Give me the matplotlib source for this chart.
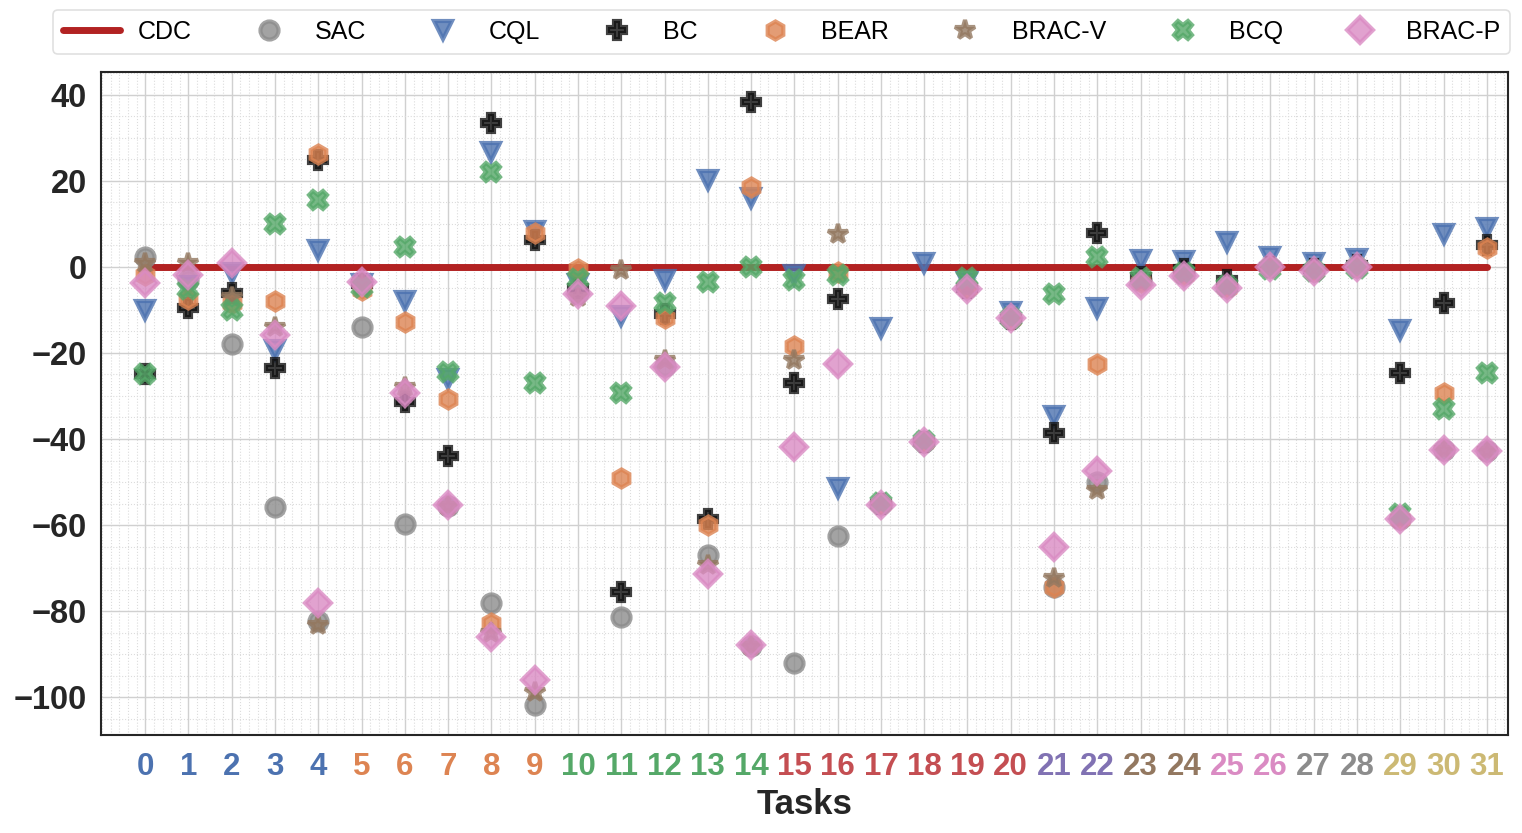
import numpy as np
import matplotlib
matplotlib.use('Agg')
import matplotlib.pyplot as plt
from matplotlib.ticker import AutoMinorLocator

plt.rcParams['font.family'] = ['Liberation Sans', 'DejaVu Sans']

# tasks and per-method scores
tasks = np.arange(32)
cdc = [0.0] * 32
sac = [2.3, -3.0, -18.0, -55.7, -82.4, -14.0, -59.7, -55.5, -78.0, -101.9,
       -6.0, -81.3, -23.0, -66.9, -88.0, -92.0, -62.5, -55.0, -40.6, -5.0,
       -12.0, -74.3, -49.9, -3.0, -1.5, -4.5, 0.0, -1.0, 0.0, -58.5,
       -42.5, -42.7]
cql = [-10.0, -4.5, -1.5, -19.3, 3.9, -4.0, -8.0, -26.0, 26.7, 8.3,
       -4.0, -11.5, -3.0, 20.2, 16.0, -2.0, -51.3, -14.2, 0.9, -3.5,
       -10.5, -34.6, -9.5, 1.6, 1.4, 5.8, 2.3, 0.9, 1.8, -14.6,
       7.6, 9.0]
bc = [-25.0, -9.5, -6.0, -23.5, 24.8, -4.0, -31.5, -44.0, 33.4, 6.3,
      -5.0, -75.5, -11.0, -58.7, 38.3, -27.0, -7.5, -55.0, -40.6, -5.0,
      -12.0, -38.6, 7.9, -2.3, -0.5, -3.0, 0.0, -0.5, 0.5, -24.6,
      -8.4, 5.1]
bear = [-1.9, -7.5, -8.4, -8.0, 26.2, -5.3, -12.8, -30.6, -82.7, 7.9,
        -0.5, -49.0, -11.8, -60.1, 18.6, -18.5, -1.2, -55.0, -40.6, -5.0,
        -12.0, -74.3, -22.5, -3.5, -1.8, -4.8, 0.0, -1.0, 0.0, -58.5,
        -29.2, 4.4]
brac_v = [1.0, 0.8, -7.0, -14.0, -83.3, -3.5, -27.8, -55.5, -85.0, -98.9,
          -7.0, -0.8, -21.6, -69.2, -88.0, -21.6, 7.6, -55.0, -40.6, -5.0,
          -12.0, -72.2, -51.8, -3.5, -1.8, -4.8, 0.0, -1.0, 0.0, -58.5,
          -42.5, -42.7]
bcq = [-25.0, -5.2, -10.0, 10.0, 15.6, -4.6, 4.6, -24.4, 22.0, -27.0,
       -2.8, -29.3, -8.4, -3.5, 0.0, -3.0, -2.0, -54.8, -40.4, -2.6,
       -11.8, -6.3, 2.3, -2.5, -1.5, -4.5, -0.5, -1.0, -0.3, -57.5,
       -33.0, -24.6]
brac_p = [-3.8, -1.9, 1.0, -15.8, -78.2, -3.5, -29.3, -55.3, -85.9, -96.1,
          -6.2, -9.2, -23.2, -71.3, -87.8, -41.8, -22.6, -55.3, -40.6, -5.1,
          -11.9, -65.0, -47.5, -4.2, -2.1, -4.9, 0.0, -1.0, -0.1, -58.7,
          -42.5, -42.7]

methods = ['SAC', 'CQL', 'BC', 'BEAR', 'BRAC-V', 'BCQ', 'BRAC-P']
series = [sac, cql, bc, bear, brac_v, bcq, brac_p]
markers = ['o', 'v', 'P', 'h', '*', 'X', 'D']
sizes = [13, 13, 13, 13, 15, 13, 13]
colors = ['#8c8c8c', '#4c72b0', '#111111', '#dd8452', '#937860', '#55a868', '#da8bc3']

# tick label colours per task group
palette = ['#4c72b0', '#dd8452', '#55a868', '#c44e52', '#8172b3',
           '#937860', '#da8bc3', '#8c8c8c', '#ccb974']
groups = [0]*5 + [1]*5 + [2]*5 + [3]*6 + [4]*2 + [5]*2 + [6]*2 + [7]*2 + [8]*3
tick_colors = [palette[g] for g in groups]

fig = plt.figure(figsize=(15.22, 8.33), dpi=100)
ax = fig.add_axes([0.0664, 0.1176, 0.9244, 0.796])

ax.plot(tasks, cdc, '-', color='#b22222', lw=5, solid_capstyle='round', label='CDC', zorder=3)
for name, vals, m, ms, c in zip(methods, series, markers, sizes, colors):
    ax.plot(tasks, vals, linestyle='none', marker=m, ms=ms, mew=3,
            color=c, mec=c, alpha=0.8, label=name, zorder=3)

ax.set_xlim(-1.02, 31.49)
ax.set_ylim(-108.8, 45.3)
ax.set_xticks(tasks)
ax.set_yticks(np.arange(-100, 41, 20))
ax.xaxis.set_minor_locator(AutoMinorLocator())
ax.yaxis.set_minor_locator(AutoMinorLocator())
ax.grid(which='major', color='#d0d0d0', lw=1.0, zorder=0)
ax.grid(which='minor', color='#dcdcdc', lw=0.8, linestyle=':', zorder=0)
ax.set_axisbelow(True)
ax.tick_params(which='both', length=0)
ax.tick_params(axis='y', pad=10)
ax.tick_params(axis='x', pad=12.5)

for s in ax.spines.values():
    s.set_color('#262626')
    s.set_linewidth(1.5)

ax.set_yticklabels([str(v).replace('-', '\u2212') for v in range(-100, 41, 20)],
                   fontsize=23.5, fontweight='bold', color='#262626')
ax.set_xticklabels([str(t) for t in tasks], fontsize=22.5, fontweight='bold')
for lbl, c in zip(ax.get_xticklabels(), tick_colors):
    lbl.set_color(c)
ax.set_xlabel('Tasks', fontsize=25, fontweight='bold', color='#262626', labelpad=4)

handles, labels = ax.get_legend_handles_labels()
leg = fig.legend(handles, labels, ncol=8, mode='expand', loc='center',
                 bbox_to_anchor=(53/1522, 1 - 54/833, 1457/1522, 44/833),
                 fontsize=18, handlelength=2.3, handletextpad=0.7,
                 frameon=True, fancybox=True, borderaxespad=0)
leg.get_frame().set_edgecolor('#d9d9d9')
leg.get_frame().set_linewidth(1.2)

fig.savefig('out.png', dpi=100)
